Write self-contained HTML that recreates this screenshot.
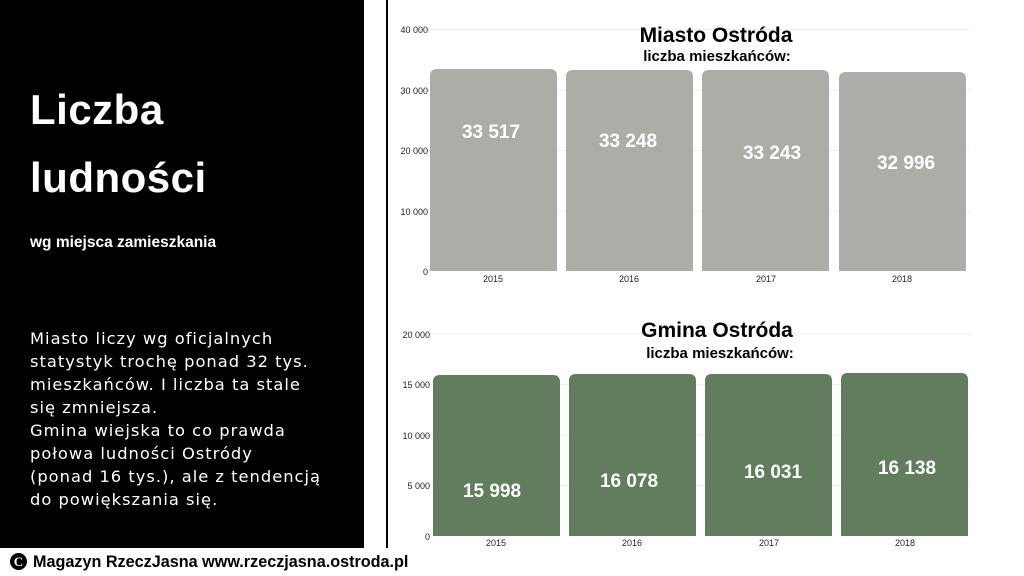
<!DOCTYPE html>
<html><head><meta charset="utf-8"><style>
body{margin:0;width:1024px;height:576px;background:#fff;position:relative;overflow:hidden;font-family:"Liberation Sans",sans-serif}
.panel{position:absolute;left:0;top:0;width:364px;height:548px;background:#000}
.t{position:absolute;color:#fff;white-space:nowrap}
</style></head><body>
<div class="panel"></div>
<div class="t" style="left:30px;top:86px;font-size:42px;font-weight:bold;letter-spacing:0.5px">Liczba</div>
<div class="t" style="left:30px;top:154px;font-size:42px;font-weight:bold;letter-spacing:0.5px">ludności</div>
<div class="t" style="left:30px;top:234px;font-size:15.5px;font-weight:bold">wg miejsca zamieszkania</div>
<div class="t" style="left:30px;top:327px;font-family:'DejaVu Sans',sans-serif;font-size:16.3px;line-height:23px;letter-spacing:1.0px">Miasto liczy wg oficjalnych<br>statystyk trochę ponad 32 tys.<br>mieszkańców. I liczba ta stale<br>się zmniejsza.<br>Gmina wiejska to co prawda<br>połowa ludności Ostródy<br>(ponad 16 tys.), ale z tendencją<br>do powiększania się.</div>
<div style="position:absolute;left:386px;top:0;width:1.5px;height:548px;background:#000"></div>
<div style="position:absolute;left:10px;top:553px;width:17px;height:17px;border-radius:50%;background:#000;color:#fff;font:bold 13px 'Liberation Serif',serif;text-align:center;line-height:17px">C</div>
<div style="position:absolute;left:33px;top:553px;font-size:16.2px;font-weight:bold;color:#000;white-space:nowrap">Magazyn RzeczJasna www.rzeczjasna.ostroda.pl</div>
<svg width="1024" height="576" style="position:absolute;left:0;top:0" font-family="Liberation Sans, sans-serif">
<g stroke="#eee" stroke-width="1">
<line x1="420" x2="970" y1="29.5" y2="29.5"/><line x1="420" x2="970" y1="90" y2="90"/><line x1="420" x2="970" y1="150.5" y2="150.5"/><line x1="420" x2="970" y1="211" y2="211"/>
<line x1="420" x2="970" y1="334" y2="334"/><line x1="420" x2="970" y1="384.5" y2="384.5"/><line x1="420" x2="970" y1="435" y2="435"/><line x1="420" x2="970" y1="485.5" y2="485.5"/>
</g>
<g font-size="9" fill="#222" text-anchor="end">
<text x="428" y="33">40 000</text><text x="428" y="94">30 000</text><text x="428" y="154">20 000</text><text x="428" y="215">10 000</text><text x="428" y="275">0</text>
<text x="430" y="338">20 000</text><text x="430" y="388">15 000</text><text x="430" y="439">10 000</text><text x="430" y="489">5 000</text><text x="430" y="540">0</text>
</g>
<g fill="#abada6">
<path d="M430 271V76Q430 69 437 69H550Q557 69 557 76V271Z"/>
<path d="M566 271V77Q566 70 573 70H686Q693 70 693 77V271Z"/>
<path d="M702 271V77Q702 70 709 70H822Q829 70 829 77V271Z"/>
<path d="M839 271V79Q839 72 846 72H959Q966 72 966 79V271Z"/>
</g>
<g fill="#617d5e">
<path d="M433 536V382Q433 375 440 375H553Q560 375 560 382V536Z"/>
<path d="M569 536V381Q569 374 576 374H689Q696 374 696 381V536Z"/>
<path d="M705 536V381Q705 374 712 374H825Q832 374 832 381V536Z"/>
<path d="M841 536V380Q841 373 848 373H961Q968 373 968 380V536Z"/>
</g>
<g font-size="19" font-weight="bold" fill="#fff" text-anchor="middle">
<text x="491" y="138">33 517</text><text x="628" y="147">33 248</text><text x="772" y="159">33 243</text><text x="906" y="169">32 996</text>
<text x="492" y="497">15 998</text><text x="629" y="487">16 078</text><text x="773" y="478">16 031</text><text x="907" y="474">16 138</text>
</g>
<g font-size="9" fill="#222" text-anchor="middle">
<text x="493" y="282">2015</text><text x="629" y="282">2016</text><text x="766" y="282">2017</text><text x="902" y="282">2018</text>
<text x="496" y="546">2015</text><text x="632" y="546">2016</text><text x="769" y="546">2017</text><text x="905" y="546">2018</text>
</g>
<g font-weight="bold" fill="#000" text-anchor="middle">
<text x="716" y="42" font-size="21">Miasto Ostróda</text><text x="717" y="61" font-size="15">liczba mieszkańców:</text>
<text x="717" y="337" font-size="21">Gmina Ostróda</text><text x="720" y="358" font-size="15">liczba mieszkańców:</text>
</g>
</svg>
</body></html>
